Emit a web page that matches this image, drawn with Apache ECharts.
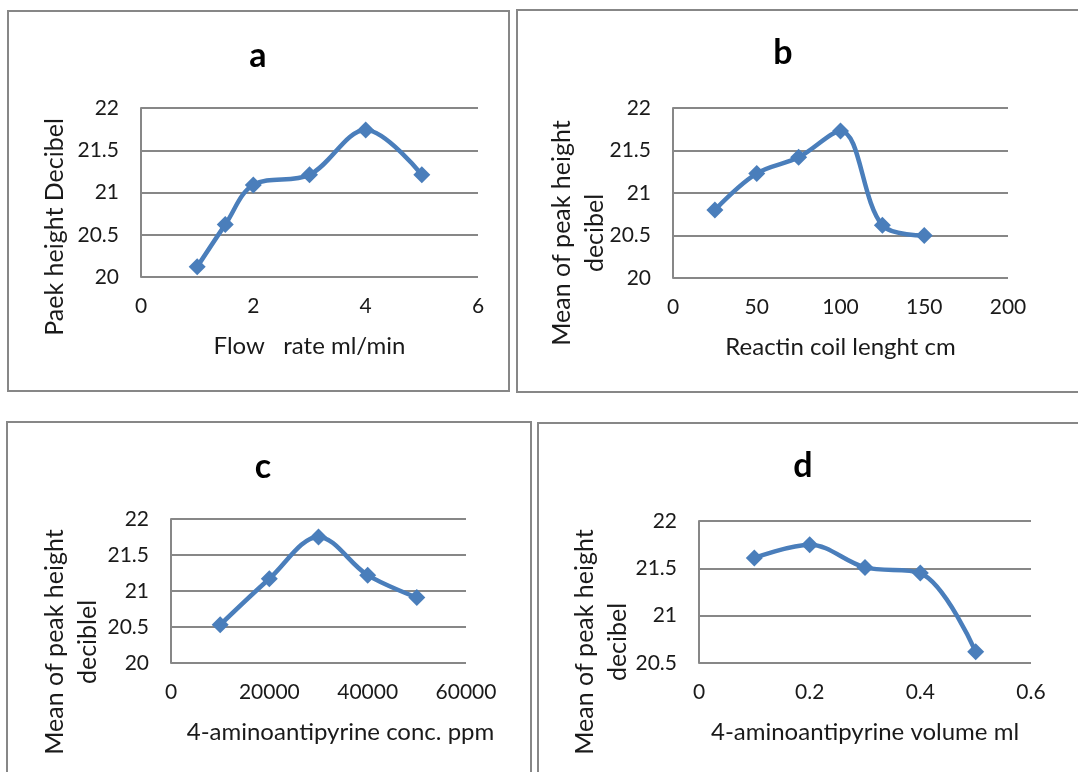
<!DOCTYPE html>
<html>
<head>
<meta charset="utf-8">
<script src="https://cdn.jsdelivr.net/npm/echarts@6/dist/echarts.min.js"></script>
<style>html,body{margin:0;padding:0;background:#fff;}#c{width:1078px;height:772px;}</style>
</head>
<body>
<div id="c"></div>
<script>
// ---- data ----
var flowRate = [1, 1.5, 2, 3, 4, 5];
var flowPeak = [20.12, 20.62, 21.09, 21.21, 21.74, 21.21];

var coilLength = [25, 50, 75, 100, 125, 150];
var coilPeak = [20.8, 21.23, 21.42, 21.73, 20.62, 20.5];

var aapConc = [10000, 20000, 30000, 40000, 50000];
var aapConcPeak = [20.53, 21.17, 21.75, 21.22, 20.91];

var aapVolume = [0.1, 0.2, 0.3, 0.4, 0.5];
var aapVolumePeak = [21.61, 21.75, 21.51, 21.45, 20.62];

var panelTitles = ['a', 'b', 'c', 'd'];
var xNames = ['Flow   rate ml/min', 'Reactin coil lenght cm', '4-aminoantipyrine conc. ppm', '4-aminoantipyrine volume ml'];
var yNames = ['Paek height Decibel', 'Mean of peak height\ndecibel', 'Mean of peak height\ndeciblel', 'Mean of peak height\ndecibel'];

// ---- layout ----
var FONT = 'Lato, "Open Sans", sans-serif';
var GRAY = '#878787';
var BLUE = '#4a7ebb';
var grids = [
  {left: 141, top: 108, width: 337, height: 169},
  {left: 673, top: 108, width: 335, height: 170},
  {left: 171, top: 519, width: 295, height: 144},
  {left: 699, top: 521, width: 332, height: 142}
];
var xRanges = [[0, 6, 2], [0, 200, 50], [0, 60000, 20000], [0, 0.6, 0.2]];
var yRanges = [[20, 22, 0.5], [20, 22, 0.5], [20, 22, 0.5], [20.5, 22, 0.5]];
var xs = [flowRate, coilLength, aapConc, aapVolume];
var ys = [flowPeak, coilPeak, aapConcPeak, aapVolumePeak];
var titlePos = [[258, 56], [783, 53], [263, 467], [803, 466]];
var yNamePos = [[55, 227], [578, 233], [71, 642], [601, 642]];
var xNamePad = [[0,0,0,0],[0,0,0,0],[0,0,0,44],[0,0,0,0]];
var boxes = [
  {x: 8, y: 11, width: 501, height: 380},
  {x: 517, y: 10, width: 600, height: 382},
  {x: 7, y: 422, width: 524, height: 400},
  {x: 538, y: 423, width: 600, height: 400}
];

var option = {
  backgroundColor: '#fff',
  animation: false,
  grid: grids,
  xAxis: [], yAxis: [], series: [], graphic: []
};
for (var i = 0; i < 4; i++) {
  option.xAxis.push({
    type: 'value', gridIndex: i,
    min: xRanges[i][0], max: xRanges[i][1], interval: xRanges[i][2],
    name: xNames[i], nameLocation: 'middle', nameGap: 57,
    nameTextStyle: {fontFamily: FONT, fontSize: 24, color: '#1a1a1a', padding: xNamePad[i]},
    axisLine: {show: false}, axisTick: {show: false}, splitLine: {show: false},
    axisLabel: {fontFamily: FONT, fontSize: 21, color: '#1a1a1a', margin: 19,
      formatter: function (v) { return String(Math.round(v * 1000) / 1000); }}
  });
  option.yAxis.push({
    type: 'value', gridIndex: i,
    min: yRanges[i][0], max: yRanges[i][1], interval: yRanges[i][2],
    axisLine: {show: true, lineStyle: {color: GRAY, width: 2}},
    axisTick: {show: false},
    splitLine: {show: true, lineStyle: {color: GRAY, width: 2}},
    axisLabel: {fontFamily: FONT, fontSize: 21, color: '#1a1a1a', margin: 22}
  });
  var pts = [];
  for (var k = 0; k < xs[i].length; k++) pts.push([xs[i][k], ys[i][k]]);
  option.series.push({
    type: 'line', xAxisIndex: i, yAxisIndex: i, data: pts,
    smooth: 0.35, symbol: 'diamond', symbolSize: 17,
    lineStyle: {color: BLUE, width: 4.5},
    itemStyle: {color: BLUE},
    silent: true
  });
  option.graphic.push({
    type: 'rect', shape: boxes[i], silent: true, z: -1,
    style: {fill: 'none', stroke: GRAY, lineWidth: 2}
  });
  option.graphic.push({
    type: 'text', x: titlePos[i][0], y: titlePos[i][1],
    style: {text: panelTitles[i], font: 'bold 34px ' + FONT, fill: '#000', align: 'center', verticalAlign: 'middle'}
  });
  option.graphic.push({
    type: 'text', x: yNamePos[i][0], y: yNamePos[i][1], rotation: Math.PI / 2,
    style: {text: yNames[i], font: '25px ' + FONT, fill: '#1a1a1a', align: 'center', verticalAlign: 'middle', lineHeight: 33}
  });
}
var chart = echarts.init(document.getElementById('c'), null, {renderer: 'canvas'});
chart.setOption(option);
</script>
</body>
</html>
